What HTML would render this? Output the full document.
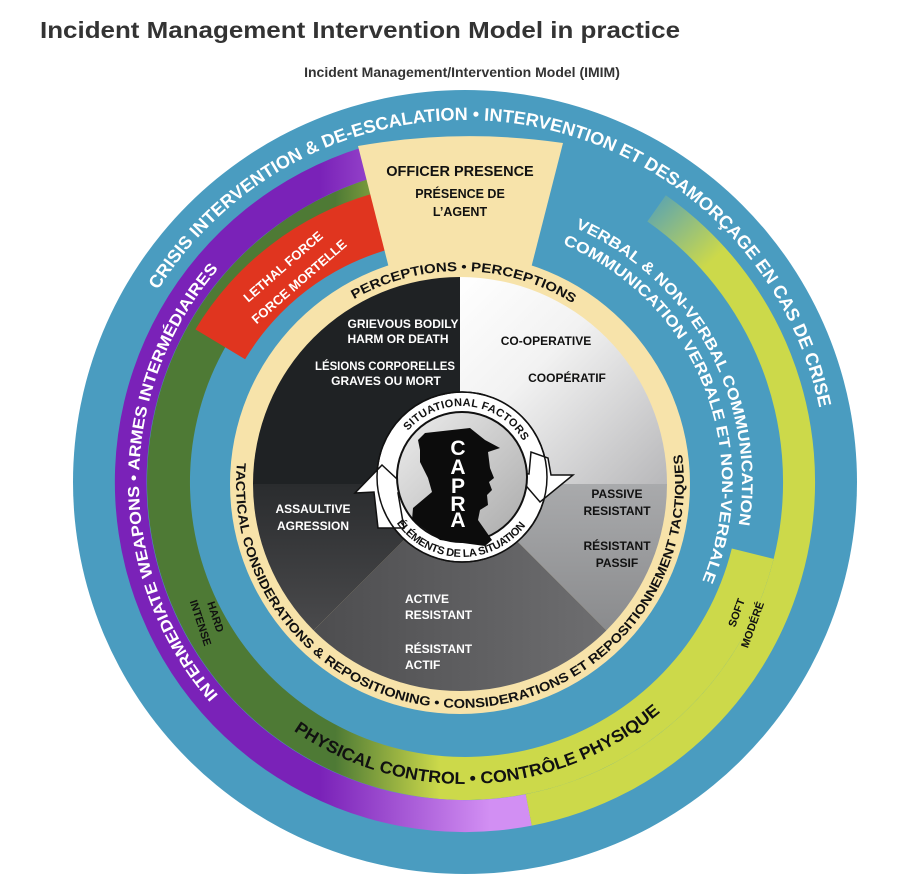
<!DOCTYPE html>
<html><head><meta charset="utf-8"><style>
html,body{margin:0;padding:0;background:#fff;}
svg{display:block;}
text{font-family:"Liberation Sans",Arial,sans-serif;font-weight:bold;}
</style></head><body>
<svg width="897" height="893" viewBox="0 0 897 893" xmlns="http://www.w3.org/2000/svg">
<defs>
<linearGradient id="pinkG" gradientUnits="userSpaceOnUse" x1="320" y1="0" x2="490" y2="0"><stop offset="0" stop-color="#7a22b8"/><stop offset="1" stop-color="#d28ff3"/></linearGradient>
<linearGradient id="greenG" gradientUnits="userSpaceOnUse" x1="335" y1="0" x2="440" y2="0"><stop offset="0" stop-color="#4e7a35"/><stop offset="1" stop-color="#ccd94a"/></linearGradient>
<linearGradient id="limeG" gradientUnits="userSpaceOnUse" x1="655" y1="180" x2="722" y2="252"><stop offset="0" stop-color="#4a9cc0"/><stop offset="1" stop-color="#ccd94a"/></linearGradient>
<linearGradient id="trG" x1="0" y1="0" x2="1" y2="1"><stop offset="0" stop-color="#ffffff"/><stop offset="0.4" stop-color="#f2f2f2"/><stop offset="1" stop-color="#b8b8ba"/></linearGradient>
<linearGradient id="rG" x1="0" y1="0" x2="0" y2="1"><stop offset="0" stop-color="#a9aaac"/><stop offset="1" stop-color="#8a8b8d"/></linearGradient>
<linearGradient id="bG" x1="1" y1="0" x2="0" y2="0"><stop offset="0" stop-color="#6e6e70"/><stop offset="1" stop-color="#4d4d4f"/></linearGradient>
<linearGradient id="lG" x1="0" y1="0" x2="0" y2="1"><stop offset="0" stop-color="#2a2c2e"/><stop offset="1" stop-color="#4a4a4c"/></linearGradient>
<linearGradient id="capG" x1="0" y1="0" x2="1" y2="1"><stop offset="0" stop-color="#eeeeee"/><stop offset="1" stop-color="#a9a9a9"/></linearGradient>
<path id="p1" d="M465,844 A362,362 0 1 1 465,120 A362,362 0 1 1 465,844"/>
<path id="p2" d="M465,808 A326,326 0 1 1 465,156 A326,326 0 1 1 465,808"/>
<path id="p3" d="M465,759 A277,277 0 1 1 465,205 A277,277 0 1 1 465,759"/>
<path id="p4" d="M465,739 A257,257 0 1 1 465,225 A257,257 0 1 1 465,739"/>
<path id="p5" d="M460,697 A213,213 0 1 1 460,271 A213,213 0 1 1 460,697"/>
<path id="p6" d="M460,260 A224,224 0 1 0 460,708 A224,224 0 1 0 460,260"/>
<path id="p7" d="M465,180 A302,302 0 1 0 465,784 A302,302 0 1 0 465,180"/>
<path id="p8" d="M462,548 A71,71 0 1 1 462,406 A71,71 0 1 1 462,548"/>
<path id="p9" d="M462,397 A80,80 0 1 0 462,557 A80,80 0 1 0 462,397"/>
</defs>

<text x="40" y="38" font-size="23" fill="#333" textLength="640" lengthAdjust="spacingAndGlyphs">Incident Management Intervention Model in practice</text>
<text x="462" y="77" font-size="14" fill="#333" text-anchor="middle">Incident Management/Intervention Model (IMIM)</text>

<circle cx="465" cy="482" r="392" fill="#4a9cc0"/>

<path d="M773.6,558.9 A318,318 0 1 1 372,177.9 L384.6,219 A275,275 0 1 0 731.8,548.5 Z" fill="url(#greenG)"/>
<path d="M531.8,825.6 A350,350 0 0 1 362.7,147.3 L372,177.9 A318,318 0 0 0 525.7,794.2 Z" fill="url(#pinkG)"/>
<path d="M665.8,195.3 A350,350 0 0 1 531.8,825.6 L525.7,794.2 A318,318 0 0 0 647.4,221.5 Z" fill="url(#limeG)"/>

<path d="M195.4,329.4 A304,304 0 0 1 372.2,193.8 L388.2,249.5 A246,246 0 0 0 245.1,359.3 Z" fill="#e0351f"/>
<text font-size="13" fill="#fff" text-anchor="middle" transform="translate(286,270) rotate(-41)">LETHAL FORCE</text>
<text font-size="13" fill="#fff" text-anchor="middle" transform="translate(302,285) rotate(-41)">FORCE MORTELLE</text>

<circle cx="460" cy="484" r="230" fill="#f7e3aa"/>
<path d="M358,146 Q460,128 563,143 L528,280 L392,280 Z" fill="#f7e3aa"/>
<text x="460" y="176" font-size="14.5" fill="#111" text-anchor="middle">OFFICER PRESENCE</text>
<text x="460" y="198" font-size="12.5" fill="#111" text-anchor="middle">PRÉSENCE DE</text>
<text x="460" y="216" font-size="12.5" fill="#111" text-anchor="middle">L’AGENT</text>

<path d="M460,484 L253,484 A207,207 0 0 1 460,277 Z" fill="#1f2224"/>
<path d="M460,484 L460,277 A207,207 0 0 1 667,484 Z" fill="url(#trG)"/>
<path d="M460,484 L667,484 A207,207 0 0 1 606.4,630.4 Z" fill="url(#rG)"/>
<path d="M460,484 L606.4,630.4 A207,207 0 0 1 313.6,630.4 Z" fill="url(#bG)"/>
<path d="M460,484 L313.6,630.4 A207,207 0 0 1 253,484 Z" fill="url(#lG)"/>

<g font-size="12" text-anchor="middle" fill="#fff">
<text x="403" y="328">GRIEVOUS BODILY</text>
<text x="398" y="343">HARM OR DEATH</text>
<text x="385" y="370" textLength="140" lengthAdjust="spacingAndGlyphs">LÉSIONS CORPORELLES</text>
<text x="386" y="385">GRAVES OU MORT</text>
<text x="313" y="513">ASSAULTIVE</text>
<text x="313" y="530">AGRESSION</text>
</g>
<g font-size="12" fill="#fff">
<text x="405" y="603">ACTIVE</text>
<text x="405" y="619">RESISTANT</text>
<text x="405" y="653">RÉSISTANT</text>
<text x="405" y="669">ACTIF</text>
</g>
<g font-size="12" text-anchor="middle" fill="#111">
<text x="546" y="345">CO-OPERATIVE</text>
<text x="567" y="382">COOPÉRATIF</text>
<text x="617" y="498">PASSIVE</text>
<text x="617" y="515">RESISTANT</text>
<text x="617" y="550">RÉSISTANT</text>
<text x="617" y="567">PASSIF</text>
</g>

<circle cx="462" cy="477" r="85" fill="#fff" stroke="#111" stroke-width="1.5"/>
<polygon points="382,465 355,493 374,492 378,528 404,528 398,493 412,493" fill="#fff" stroke="#111" stroke-width="1.5"/>
<polygon points="515,473 529,474 531,452 548,458 551,475 573,475 540,502" fill="#fff" stroke="#111" stroke-width="1.5"/>
<circle cx="462" cy="477" r="85" fill="none" stroke="#111" stroke-width="1.5"/>
<circle cx="462" cy="477" r="65" fill="url(#capG)" stroke="#111" stroke-width="2"/>
<path d="M418,440 L425,433 L470,428 L485,440 L500,448 L488,452 L490,468 L494,478 L489,482 L492,490 L487,495 L488,505 L480,510 L478,520 L492,540 L485,546 L440,540 L412,520 L413,508 L432,492 L428,478 L420,462 L420,450 Z" fill="#0c0c0c"/>
<g font-size="21" fill="#fff" text-anchor="middle">
<text x="458" y="455">C</text><text x="458" y="474">A</text><text x="458" y="493">P</text><text x="458" y="511">R</text><text x="458" y="527">A</text>
</g>
<text font-size="11" fill="#111" text-anchor="middle"><textPath href="#p8" startOffset="51.4%" textLength="135" lengthAdjust="spacing">SITUATIONAL FACTORS</textPath></text>
<text font-size="11" fill="#111" text-anchor="middle"><textPath href="#p9" startOffset="49.7%" textLength="150" lengthAdjust="spacing">ÉLÉMENTS DE LA SITUATION</textPath></text>

<text font-size="18" fill="#fff" text-anchor="middle"><textPath href="#p1" startOffset="52.8%" textLength="860" lengthAdjust="spacingAndGlyphs">CRISIS INTERVENTION &amp; DE-ESCALATION • INTERVENTION ET DESAMORÇAGE EN CAS DE CRISE</textPath></text>
<text font-size="16" fill="#fff" text-anchor="middle"><textPath href="#p2" startOffset="25%" textLength="465" lengthAdjust="spacingAndGlyphs">INTERMEDIATE WEAPONS • ARMES INTERMÉDIAIRES</textPath></text>
<text font-size="15.5" fill="#fff" text-anchor="middle"><textPath href="#p3" startOffset="67%" textLength="365" lengthAdjust="spacingAndGlyphs">VERBAL &amp; NON-VERBAL COMMUNICATION</textPath></text>
<text font-size="15.5" fill="#fff" text-anchor="middle"><textPath href="#p4" startOffset="68.75%" textLength="405" lengthAdjust="spacingAndGlyphs">COMMUNICATION VERBALE ET NON-VERBALE</textPath></text>
<text font-size="13" fill="#111" text-anchor="middle"><textPath href="#p5" startOffset="50.3%" textLength="230" lengthAdjust="spacingAndGlyphs">PERCEPTIONS • PERCEPTIONS</textPath></text>
<text font-size="13" fill="#111" text-anchor="middle"><textPath href="#p6" startOffset="50.3%" textLength="755" lengthAdjust="spacingAndGlyphs">TACTICAL CONSIDERATIONS &amp; REPOSITIONING • CONSIDERATIONS ET REPOSITIONNEMENT TACTIQUES</textPath></text>
<text font-size="17" fill="#111" text-anchor="middle"><textPath href="#p7" startOffset="50.8%" textLength="395" lengthAdjust="spacingAndGlyphs">PHYSICAL CONTROL • CONTRÔLE PHYSIQUE</textPath></text>

<text font-size="11" fill="#111" text-anchor="middle" transform="translate(212,618) rotate(72)">HARD</text>
<text font-size="11" fill="#111" text-anchor="middle" transform="translate(197,624) rotate(72)">INTENSE</text>
<text font-size="11" fill="#111" text-anchor="middle" transform="translate(740,614) rotate(-70)">SOFT</text>
<text font-size="11" fill="#111" text-anchor="middle" transform="translate(756,626) rotate(-70)">MODÉRÉ</text>
</svg>
</body></html>
